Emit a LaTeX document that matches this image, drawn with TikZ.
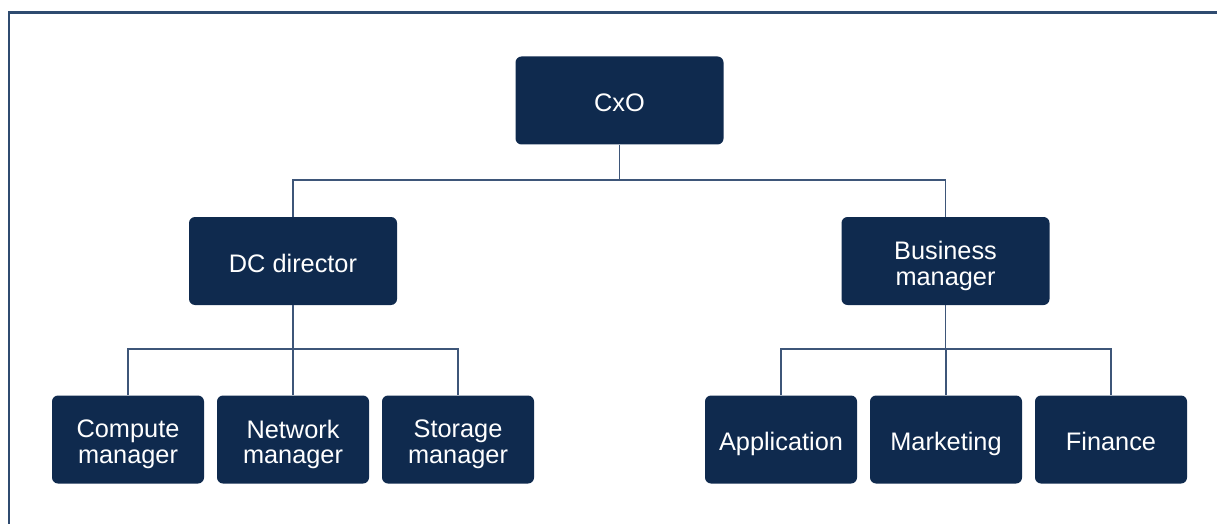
\documentclass[tikz,border=0pt]{standalone}
\usepackage{fontspec}
\setmainfont{Liberation Sans}
\definecolor{boxblue}{HTML}{0F2A4E}
\definecolor{linkblue}{HTML}{3E5679}
\definecolor{framblue}{HTML}{2F4B70}
% box label, lowered a little (keeping its size) so it sits optically centred
\newcommand{\orgtext}[1]{\raisebox{-4.5pt}[\height][\depth]{\begin{tabular}{@{}c@{}}#1\end{tabular}}}
\begin{document}
\begin{tikzpicture}[x=0.75pt,y=-0.75pt,
  orgbox/.style={draw=none,fill=boxblue,rounded corners=4.5pt,text=white,
    inner sep=0pt,font=\fontsize{19}{19}\selectfont},
  big/.style={orgbox,minimum width=156pt,minimum height=66pt},
  small/.style={orgbox,minimum width=114pt,minimum height=66pt},
  link/.style={draw=linkblue,line width=0.9pt}]
\useasboundingbox (0,0) rectangle (1217,524);
% outer frame (top and left edges)
\draw[framblue,line width=1.8pt] (9,524) -- (9,12.5) -- (1217,12.5);
% boxes
\node[big] (cxo) at (619.5,100.5) {\orgtext{CxO}};
\node[big] (dc) at (293,261) {\orgtext{DC director}};
\node[big] (bm) at (945.5,261) {\orgtext{Business\\manager}};
\node[small] (cm) at (128,439.5) {\orgtext{Compute\\manager}};
\node[small] (nm) at (293,439.5) {\orgtext{Network\\manager}};
\node[small] (sm) at (458,439.5) {\orgtext{Storage\\manager}};
\node[small] (ap) at (781,439.5) {\orgtext{Application}};
\node[small] (mk) at (946,439.5) {\orgtext{Marketing}};
\node[small] (fi) at (1111,439.5) {\orgtext{Finance}};
% connectors
\coordinate (j1) at (619.5,180);
\coordinate (j2) at (293,349);
\coordinate (j3) at (945.5,349);
\draw[link] (cxo.south) -- (j1);
\draw[link] (dc.north) -- (dc.north |- j1) -- (bm.north |- j1) -- (bm.north);
\draw[link] (dc.south) -- (j2);
\draw[link] (cm.north) -- (cm.north |- j2) -- (sm.north |- j2) -- (sm.north);
\draw[link] (nm.north) -- (j2);
\draw[link] (bm.south) -- (j3);
\draw[link] (ap.north) -- (ap.north |- j3) -- (fi.north |- j3) -- (fi.north);
\draw[link] (mk.north) -- (mk.north |- j3);
\end{tikzpicture}
\end{document}
